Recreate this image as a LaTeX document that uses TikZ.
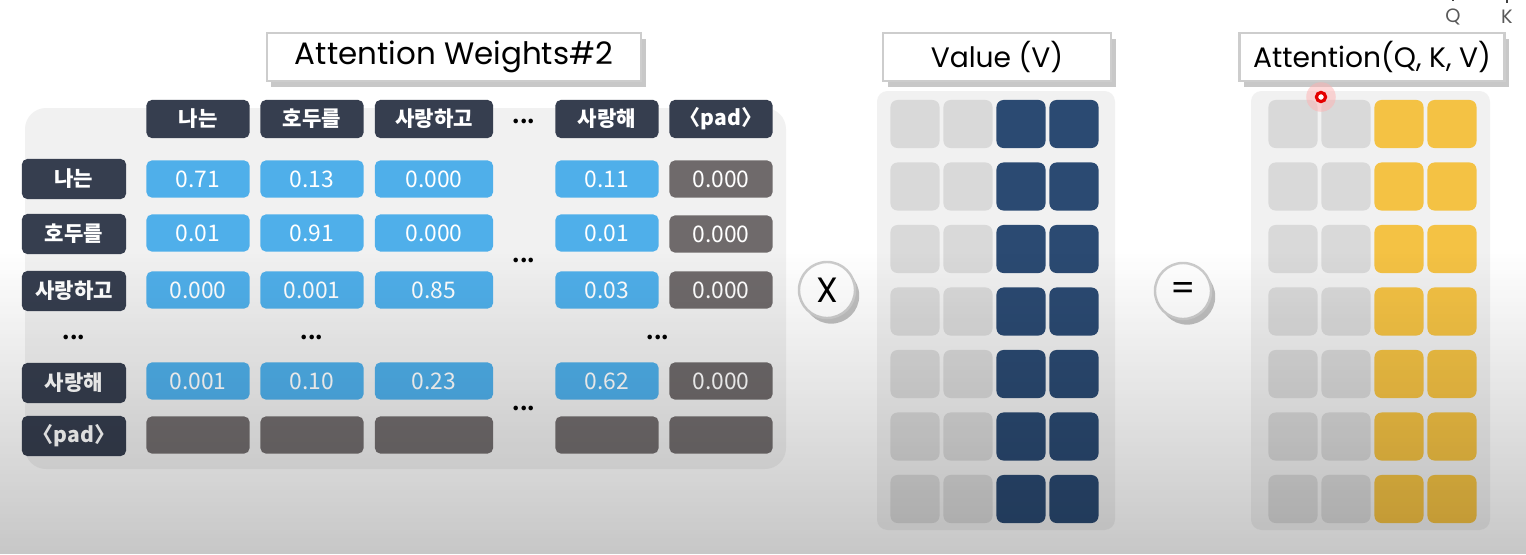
\documentclass[tikz,border=0pt]{standalone}
\usepackage{fontspec}
\setmainfont{Poppins}
\newfontfamily\krfont{Noto Sans CJK KR}
\usepackage{xcolor}
\usetikzlibrary{shadows}
\definecolor{tokdark}{HTML}{363E4F}
\definecolor{wblue}{HTML}{4FAFEA}
\definecolor{wpad}{HTML}{6F6A6B}
\definecolor{padrow}{HTML}{726D6E}
\definecolor{panel}{HTML}{F1F1F1}
\definecolor{vlight}{HTML}{D9D9D9}
\definecolor{vnavy}{HTML}{2B4A72}
\definecolor{ayellow}{HTML}{F4C244}
\definecolor{frame}{HTML}{CDCDCD}
\tikzstyle{titlebox} = [draw=frame, fill=white, line width=0.7pt, minimum height=0.48cm, inner sep=0pt, drop shadow={shadow xshift=1.3pt, shadow yshift=-1.6pt, opacity=0.3, fill=black!70}, font=\fontsize{8}{9}\selectfont]
\tikzstyle{tok} = [fill=tokdark, text=white, rounded corners=1.5pt, minimum width=1.03cm, minimum height=0.38cm, inner sep=0pt, font=\krfont\bfseries\fontsize{6}{7}\selectfont]
\tikzstyle{rowtok} = [tok, minimum width=1.04cm, minimum height=0.40cm]
\tikzstyle{wcell} = [fill=wblue, text=white, rounded corners=1.5pt, minimum width=1.03cm, minimum height=0.37cm, inner sep=0pt, font=\krfont\fontsize{6.5}{7}\selectfont]
\tikzstyle{wide} = [minimum width=1.18cm]
\tikzstyle{padcell} = [wcell, fill=wpad]
\tikzstyle{padrowcell} = [wcell, fill=padrow]
\tikzstyle{dots} = [inner sep=0pt, font=\krfont\bfseries\fontsize{6}{7}\selectfont]
\tikzstyle{opcircle} = [circle, draw=frame, fill=white, line width=0.7pt, minimum size=0.56cm, inner sep=0pt, drop shadow={shadow xshift=1.2pt, shadow yshift=-1.6pt, opacity=0.35, fill=black!70}, font=\fontsize{10}{11}\selectfont]
\tikzstyle{mcell} = [rounded corners=2pt, minimum width=0.49cm, minimum height=0.48cm, inner sep=0pt]
\tikzstyle{qk} = [text=black!65, inner sep=2pt, font=\fontsize{5.5}{6}\selectfont]
\tikzstyle{tick} = [black!75, line width=0.8pt]

\begin{document}
\begin{tikzpicture}[x=0.01cm, y=-0.01cm]
  % canvas
  \useasboundingbox (0,0) rectangle (1526,554);
  \fill[white] (0,0) rectangle (1526,554);

  % attention weights
  \node[titlebox, minimum width=3.74cm, font=\fontsize{8.8}{10}\selectfont] (awTitle) at (454,57) {Attention Weights\#2};
  \fill[panel, rounded corners=6pt] (25,108) rectangle (786,469);

  \node[tok] (hNa) at (198,119) {나는};
  \node[tok] (hHo) at (312,119) {호두를};
  \node[tok, wide] (hSa) at (434,119) {사랑하고};
  \node[dots] (hDots) at (524,121) {...};
  \node[tok] (hSh) at (607,119) {사랑해};
  \node[tok] (hPad) at (721,119) {〈pad〉};

  \node[rowtok] (rNa) at (74,179) {나는};
  \node[wcell] (w11) at (198,179) {0.71};
  \node[wcell] (w12) at (312,179) {0.13};
  \node[wcell, wide] (w13) at (434,179) {0.000};
  \node[wcell] (w14) at (607,179) {0.11};
  \node[padcell] (w15) at (721,179) {0.000};

  \node[rowtok] (rHo) at (74,234) {호두를};
  \node[wcell] (w21) at (198,233) {0.01};
  \node[wcell] (w22) at (312,233) {0.91};
  \node[wcell, wide] (w23) at (434,233) {0.000};
  \node[wcell] (w24) at (607,233) {0.01};
  \node[padcell] (w25) at (721,234) {0.000};
  \node[dots] (mDots) at (524,260) {...};

  \node[rowtok] (rSa) at (74,291) {사랑하고};
  \node[wcell] (w31) at (198,290) {0.000};
  \node[wcell] (w32) at (312,290) {0.001};
  \node[wcell, wide] (w33) at (434,290) {0.85};
  \node[wcell] (w34) at (607,290) {0.03};
  \node[padcell] (w35) at (721,290) {0.000};

  \node[dots] (lDots) at (74,337) {...};
  \node[dots] (cDots) at (312,337) {...};
  \node[dots] (rDots) at (658,337) {...};

  \node[rowtok] (rSh) at (74,383) {사랑해};
  \node[wcell] (w41) at (198,381) {0.001};
  \node[wcell] (w42) at (312,381) {0.10};
  \node[wcell, wide] (w43) at (434,381) {0.23};
  \node[wcell] (w44) at (607,381) {0.62};
  \node[padcell] (w45) at (721,381) {0.000};
  \node[dots] (bDots) at (524,408) {...};

  \node[rowtok] (rPad) at (74,436) {〈pad〉};
  \node[padrowcell] (w51) at (198,435) {};
  \node[padrowcell] (w52) at (312,435) {};
  \node[padrowcell, wide] (w53) at (434,435) {};
  \node[padrowcell] (w54) at (607,435) {};
  \node[padrowcell] (w55) at (721,435) {};

  % operators
  \node[opcircle] (times) at (827,290) {X};
  \node[opcircle] (equals) at (1183,291) {=};

  % value
  \node[titlebox, minimum width=2.28cm] (vTitle) at (997,57) {Value (V)};
  \fill[panel, rounded corners=3pt] (877,91) rectangle (1115,530);
  \foreach \r in {0,...,6}{
    \foreach \c/\col in {0/vlight,1/vlight,2/vnavy,3/vnavy}{
      \node[mcell, fill=\col] (v-\r-\c) at (915+53*\c, 124+62.5*\r) {};
    }
  }

  % result
  \node[titlebox, minimum width=2.65cm] (aTitle) at (1372,57) {Attention(Q, K, V)};
  \fill[panel, rounded corners=3pt] (1251,91) rectangle (1490,530);
  \foreach \r in {0,...,6}{
    \foreach \c/\col in {0/vlight,1/vlight,2/ayellow,3/ayellow}{
      \node[mcell, fill=\col] (a-\r-\c) at (1293+53*\c, 124+62.5*\r) {};
    }
  }

  % pointer
  \coordinate (cursorPos) at (1321,97);
  \fill[red!30, opacity=0.5] (cursorPos) circle (4.2pt);
  \node[circle, fill=white, draw=red!90!black, line width=0.9pt, minimum size=2.6pt, inner sep=0pt] (cursor) at (cursorPos) {};

  % Q and K marks
  \node[qk] (qLbl) at (1453,17) {Q};
  \node[qk] (kLbl) at (1507,17) {K};
  \coordinate (qTop) at (1453,0);
  \coordinate (kTop) at (1507,0);
  \draw[tick] (qTop) -- (qLbl.north);
  \draw[tick] (kTop) -- (kLbl.north);

  % darkening towards the bottom
  \foreach \k [evaluate=\k as \op using 0.22*(\k+0.5)/76] in {0,...,75}
    \fill[black, opacity=\op] (0,250+4*\k) rectangle (1526,254+4*\k);
\end{tikzpicture}
\end{document}
